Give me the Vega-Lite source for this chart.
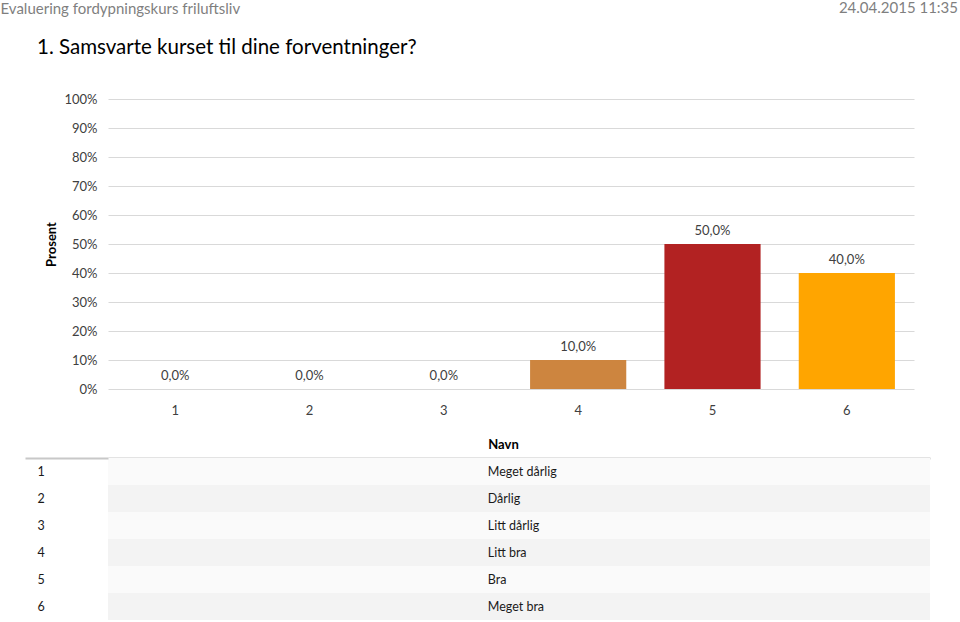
{
  "$schema": "https://vega.github.io/schema/vega-lite/v6.json",
  "padding": {"left": 0, "top": 0, "right": 0, "bottom": 0},
  "background": "white",
  "spacing": 21,
  "resolve": {"scale": {"color": "independent", "x": "independent", "y": "independent"}},
  "config": {
    "font": "Lato",
    "view": {"stroke": null},
    "locale": {"number": {"decimal": ",", "thousands": " ", "grouping": [3], "currency": ["", " kr"]}}
  },
  "vconcat": [
    {
      "width": 850,
      "height": 16,
      "data": {"values": [
        {"titel": "Evaluering fordypningskurs friluftsliv", "dato": "24.04.2015 11:35"}
      ]},
      "mark": {"type": "text", "fontSize": 15, "color": "#7f7f7f", "baseline": "middle", "align": "right"},
      "encoding": {
        "y": {"field": "titel", "type": "nominal", "scale": {"paddingInner": 0, "paddingOuter": 0},
              "axis": {"title": null, "domain": false, "ticks": false, "labelAlign": "left", "labelBaseline": "middle",
                       "labelPadding": 108, "labelLimit": 400, "labelFontSize": 15, "labelColor": "#7f7f7f"}},
        "x": {"field": "dato", "type": "nominal", "scale": {"type": "point", "padding": 0, "align": 1}, "axis": null},
        "text": {"field": "dato"}
      }
    },
    {
      "width": 806,
      "height": 290,
      "title": {"text": "1. Samsvarte kurset til dine forventninger?", "anchor": "start", "frame": "group", "dx": -71, "fontSize": 20.5, "fontWeight": "normal", "color": "#000000", "offset": 35},
      "data": {"values": [
        {"kat": "1", "pct": 0.0},
        {"kat": "2", "pct": 0.0},
        {"kat": "3", "pct": 0.0},
        {"kat": "4", "pct": 0.1},
        {"kat": "5", "pct": 0.5},
        {"kat": "6", "pct": 0.4}
      ]},
      "encoding": {
        "x": {"field": "kat", "type": "ordinal", "scale": {"paddingInner": 0.284, "paddingOuter": 0.142},
              "axis": {"title": null, "labelAngle": 0, "domain": false, "ticks": false, "labelPadding": 15, "labelFontSize": 13, "labelColor": "#404040"}},
        "y": {"field": "pct", "type": "quantitative", "scale": {"domain": [0, 1]},
              "axis": {"title": "Prosent", "format": ".0%", "values": [0, 0.1, 0.2, 0.3, 0.4, 0.5, 0.6, 0.7, 0.8, 0.9, 1],
                       "domain": false, "ticks": false, "gridColor": "#d9d9d9", "labelPadding": 11, "labelFontSize": 13, "labelColor": "#404040",
                       "titleFontSize": 13, "titleFontWeight": "bold", "titleColor": "#000000", "titlePadding": 5}}
      },
      "layer": [
        {
          "mark": {"type": "bar"},
          "encoding": {
            "color": {"field": "kat", "type": "nominal", "legend": null,
                      "scale": {"domain": ["1", "2", "3", "4", "5", "6"], "range": ["#7a8bb5", "#6f9e5c", "#8c6bb1", "#cd853f", "#b22222", "#ffa500"]}}
          }
        },
        {
          "mark": {"type": "text", "baseline": "bottom", "dy": -6, "fontSize": 13, "color": "#404040"},
          "encoding": {"text": {"field": "pct", "type": "quantitative", "format": ".1%"}}
        }
      ]
    },
    {
      "width": 822,
      "height": 162,
      "data": {"values": [
        {"nr": "1", "navn": "Meget dårlig"},
        {"nr": "2", "navn": "Dårlig"},
        {"nr": "3", "navn": "Litt dårlig"},
        {"nr": "4", "navn": "Litt bra"},
        {"nr": "5", "navn": "Bra"},
        {"nr": "6", "navn": "Meget bra"}
      ]},
      "encoding": {
        "y": {"field": "nr", "type": "nominal", "scale": {"paddingInner": 0, "paddingOuter": 0},
              "axis": {"title": null, "domain": false, "bandPosition": 0, "tickSize": 83, "tickWidth": 2,
                       "tickColor": {"condition": {"test": "datum.value == '1'", "value": "#c8c8c8"}, "value": "transparent"},
                       "labelAlign": "left", "labelBaseline": "middle", "labelPadding": -12,
                       "labelFontSize": 12.5, "labelColor": "#1a1a1a"}}
      },
      "layer": [
        {
          "mark": {"type": "rect"},
          "encoding": {
            "color": {"field": "nr", "type": "nominal", "legend": null,
                      "scale": {"domain": ["1", "2", "3", "4", "5", "6"], "range": ["#fafafa", "#f3f3f3", "#fafafa", "#f3f3f3", "#fafafa", "#f3f3f3"]}}
          }
        },
        {
          "mark": {"type": "text", "align": "left", "baseline": "middle", "fontSize": 12.5, "color": "#1a1a1a"},
          "encoding": {
            "x": {"datum": "Navn", "type": "nominal",
                  "scale": {"type": "point", "domain": ["Navn"], "padding": 0, "align": 0.462},
                  "axis": {"orient": "top", "title": null, "ticks": false, "labelAngle": 0, "labelAlign": "left",
                           "labelFontWeight": "bold", "labelFontSize": 13,
                           "labelColor": "#000000", "labelPadding": 7, "domainColor": "#c8c8c8", "domainWidth": 2}},
            "text": {"field": "navn"}
          }
        }
      ]
    }
  ]
}
